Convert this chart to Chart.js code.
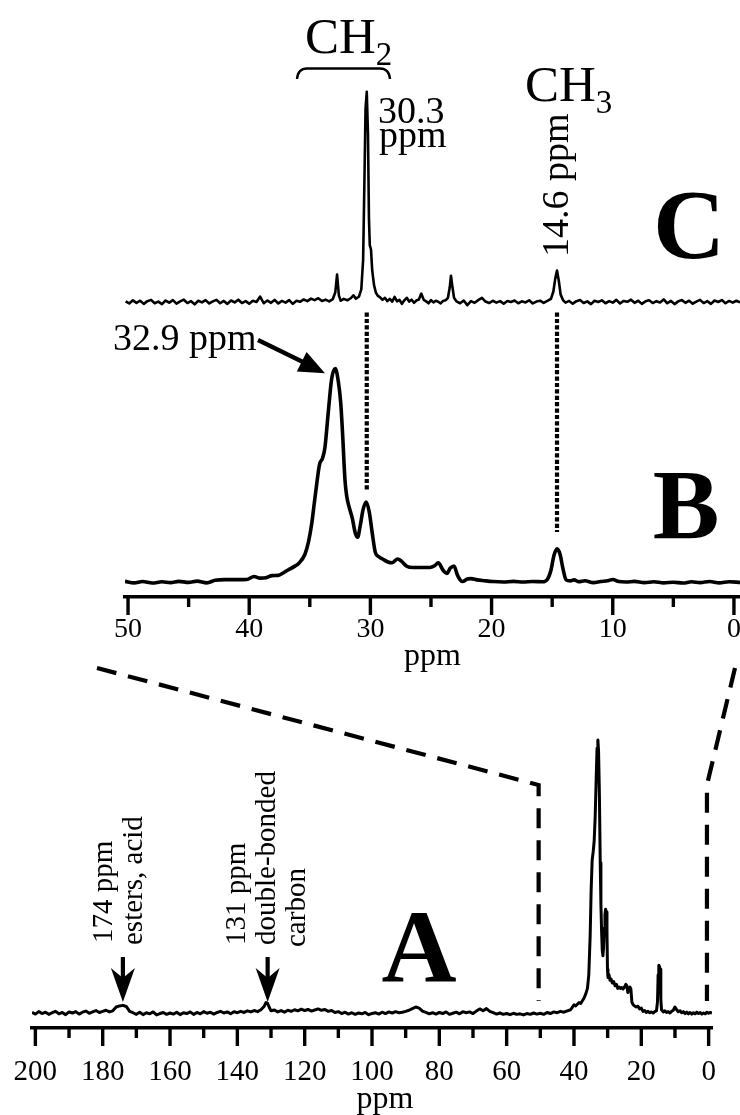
<!DOCTYPE html>
<html><head><meta charset="utf-8">
<script src="https://cdn.jsdelivr.net/npm/chart.js@4.4.1/dist/chart.umd.min.js"></script>
<style>
html,body{margin:0;padding:0;background:#fff;}
#wrap{position:relative;width:740px;height:1115px;overflow:hidden;background:#fff;}
canvas{position:absolute;left:0;}
#top{top:0;}
#bot{top:640px;}
</style></head><body>
<div id="wrap"><canvas id="top" width="740" height="680"></canvas><canvas id="bot" width="740" height="475"></canvas></div>
<script>
const SERIF = '"Liberation Serif", "Times New Roman", Times, serif';

// tick values
const bTickVals = [50, 40, 30, 20, 10, 0];
const bMinorVals = [45, 35, 25, 15, 5];
const aTickVals = [200, 180, 160, 140, 120, 100, 80, 60, 40, 20, 0];
const aMinorVals = [190, 170, 150, 130, 110, 90, 70, 50, 30, 10];

// spectrum C : [ppm, relative intensity]
const specC = [[50.2,0.3],[49.9,-0.7],[49.6,0.8],[49.3,-0.4],[49.0,0.6],[48.7,-0.9],[48.4,0.4],[48.1,1.0],[47.8,-0.6],[47.5,0.2],[47.2,-1.0],[46.9,0.7],[46.6,-0.3],[46.3,0.9],[46.0,-0.8],[45.7,0.3],[45.4,1.1],[45.1,-0.5],[44.8,0.4],[44.5,-1.1],[44.2,0.6],[43.9,-0.2],[43.6,0.9],[43.3,-0.7],[43.0,0.3],[42.7,1.0],[42.4,-0.6],[42.1,0.5],[41.8,-0.9],[41.5,0.7],[41.2,-0.2],[40.9,1.1],[40.6,-0.5],[40.3,0.4],[40.0,-0.8],[39.7,0.6],[39.4,0.0],[39.1,2.6],[38.8,-0.6],[38.5,0.7],[38.2,-0.4],[37.9,1.0],[37.6,-0.7],[37.3,0.5],[37.0,-0.3],[36.7,0.9],[36.4,-0.9],[36.1,0.6],[35.8,0.1],[35.5,1.2],[35.2,0.4],[34.9,1.6],[34.6,0.9],[34.3,1.8],[34.0,0.5],[33.7,1.1],[33.4,0.3],[33.1,1.4],[32.9,4.5],[32.75,13],[32.6,3],[32.45,0.6],[32.2,1.5],[31.9,0.8],[31.6,1.9],[31.4,3.2],[31.2,1.6],[30.95,2.5],[30.75,6],[30.6,20],[30.5,55],[30.4,92],[30.3,100],[30.2,80],[30.12,40],[30.05,27],[29.95,25],[29.85,15],[29.7,8],[29.55,4.5],[29.4,3],[29.2,2.2],[29.0,1.0],[28.8,2.0],[28.6,0.4],[28.4,1.5],[28.2,0.2],[28.0,2.4],[27.8,0.3],[27.6,1.0],[27.4,-0.9],[27.2,0.8],[27.0,2.0],[26.8,0.2],[26.6,1.1],[26.4,-0.4],[26.2,0.7],[26.0,1.2],[25.8,4.0],[25.6,1.0],[25.4,0.3],[25.2,-0.6],[25.0,0.9],[24.8,-0.2],[24.6,0.6],[24.4,0.1],[24.2,-0.7],[24.0,0.5],[23.8,0.8],[23.6,2.0],[23.45,7],[23.35,12.5],[23.25,8],[23.1,2],[22.9,0.3],[22.6,-0.6],[22.3,0.7],[22.0,-1.5],[21.7,0.4],[21.4,-0.4],[21.1,0.9],[20.8,2.0],[20.5,0.2],[20.2,-0.5],[19.9,0.6],[19.6,-0.3],[19.3,0.4],[19.0,-0.8],[18.7,0.5],[18.4,0.0],[18.1,0.7],[17.8,-0.6],[17.5,0.3],[17.2,-0.2],[16.9,0.8],[16.6,-0.7],[16.3,0.2],[16.0,0.6],[15.7,-0.4],[15.4,0.5],[15.1,1.5],[14.9,5],[14.75,11],[14.6,15],[14.45,10],[14.3,3.5],[14.1,0.8],[13.9,-0.3],[13.6,0.5],[13.3,-0.8],[13.0,0.4],[12.7,0.9],[12.4,-0.5],[12.1,0.3],[11.8,-1.0],[11.5,0.6],[11.2,0.0],[10.9,0.8],[10.6,-0.6],[10.3,0.4],[10.0,-0.3],[9.7,1.0],[9.4,-0.7],[9.1,0.5],[8.8,0.1],[8.5,1.1],[8.2,-0.4],[7.9,0.6],[7.6,-0.9],[7.3,0.3],[7.0,0.8],[6.7,-0.5],[6.4,0.4],[6.1,-0.2],[5.8,1.2],[5.5,-0.6],[5.2,0.5],[4.9,-1.0],[4.6,0.3],[4.3,0.9],[4.0,-0.4],[3.7,0.6],[3.4,-0.8],[3.1,0.2],[2.8,1.0],[2.5,-0.5],[2.2,0.4],[1.9,-0.9],[1.6,0.7],[1.3,0.0],[1.0,0.9],[0.7,-0.6],[0.4,0.5],[0.1,-0.3],[-0.2,0.6],[-0.5,-0.2]];

// spectrum B : [ppm, relative intensity]
const specB = [[50.25,0.3],[49.5,-0.4],[48.8,0.2],[48.0,-0.5],[47.2,0.1],[46.5,-0.3],[45.8,0.3],[45.0,-0.2],[44.3,0.4],[43.5,-0.4],[42.8,0.8],[42.0,1.1],[41.0,1.1],[40.2,1.2],[39.6,2.6],[39.1,1.8],[38.6,2.0],[38.1,3.0],[37.6,3.1],[37.2,4.2],[36.8,5.6],[36.3,7.2],[35.9,8.8],[35.4,13],[35.1,19],[34.85,27],[34.65,36],[34.45,45],[34.2,55],[33.95,58],[33.75,63],[33.5,78],[33.2,95],[32.9,100],[32.65,94],[32.45,84],[32.3,70],[32.1,48],[31.95,40],[31.75,35],[31.5,30],[31.25,23],[31.05,21],[30.85,26],[30.6,34],[30.35,37.5],[30.1,33],[29.85,23],[29.6,14],[29.3,11.8],[29.0,10.8],[28.6,9.5],[28.2,9.0],[27.75,10.8],[27.45,9.8],[27.0,7.4],[26.5,6.8],[25.8,6.8],[25.1,6.8],[24.7,7.6],[24.4,9.0],[24.0,5.5],[23.7,4.0],[23.4,6.5],[23.1,7.5],[22.8,3.0],[22.4,0.2],[22.0,1.4],[21.7,1.6],[21.2,1.0],[20.6,0.6],[19.9,0.2],[19.0,0.0],[18.2,0.3],[17.4,0.0],[16.6,0.2],[15.8,0.1],[15.4,1.2],[15.1,5.5],[14.85,12.5],[14.6,15.5],[14.35,13],[14.1,6],[13.85,1.0],[13.5,0.5],[13.2,1.0],[12.8,0.1],[12.3,0.6],[11.6,-0.3],[11.0,0.2],[10.4,0.6],[10.0,1.2],[9.5,0.2],[8.9,0.0],[8.2,0.3],[7.4,-0.3],[6.6,0.1],[5.8,-0.4],[5.0,-0.1],[4.2,-0.5],[3.5,0.1],[2.8,-0.3],[2.0,0.2],[1.2,-0.4],[0.4,0.1],[-0.5,-0.2]];

// spectrum A : [ppm, relative intensity]
const specA = [[201,0.2],[200,-0.4],[199,0.5],[198,-0.2],[197,0.3],[196,-0.5],[195,0.1],[194,0.6],[193,-0.3],[192,0.2],[191,-0.6],[190,0.4],[189,0.0],[188,0.5],[187,-0.4],[186,0.3],[185,0.7],[184,-0.1],[183,0.4],[182,0.9],[181,0.2],[180,0.6],[179,1.0],[178,0.4],[177,0.8],[176,2.2],[175,2.6],[174,2.8],[173,2.4],[172,0.6],[171,0.1],[170,-0.5],[169,0.3],[168,-0.6],[167,0.1],[166,-0.3],[165,0.4],[164,-0.7],[163,-0.2],[162,0.2],[161,-0.5],[160,0.0],[159,-0.4],[158,0.3],[157,-0.6],[156,0.1],[155,-0.2],[154,0.4],[153,-0.5],[152,0.2],[151,-0.3],[150,0.5],[149,-0.1],[148,0.3],[147,-0.4],[146,0.2],[145,0.6],[144,0.0],[143,0.4],[142,-0.3],[141,0.5],[140,0.1],[139,0.6],[138,0.2],[137,0.8],[136,0.4],[135,0.9],[134,0.5],[133,1.2],[132,2.5],[131.5,3.8],[131,3.5],[130.5,2.0],[130,0.8],[129,1.1],[128,0.4],[127,0.9],[126,0.3],[125,1.0],[124,0.6],[123,1.2],[122,0.8],[121,1.4],[120,0.9],[119,1.3],[118,0.7],[117,1.1],[116,1.5],[115,1.0],[114,1.3],[113,0.6],[112,0.9],[111,0.2],[110,0.5],[109,-0.2],[108,0.3],[107,-0.4],[106,0.1],[105,-0.5],[104,0.0],[103,-0.3],[102,0.2],[101,-0.6],[100,-0.2],[99,0.1],[98,-0.4],[97,0.3],[96,-0.2],[95,0.4],[94,0.0],[93,0.5],[92,0.1],[91,0.3],[90,0.6],[89,1.0],[88,1.6],[87,2.2],[86,1.8],[85,0.7],[84,0.2],[83,-0.3],[82,0.1],[81,-0.4],[80,0.2],[79,-0.2],[78,0.4],[77,-0.5],[76,-0.1],[75,0.3],[74,-0.3],[73,0.5],[72,0.1],[71,0.4],[70,-0.2],[69,0.7],[68,1.5],[67,0.8],[66,1.6],[65,0.6],[64,0.1],[63,-0.4],[62,0.0],[61,-0.5],[60,-0.2],[59,-0.6],[58,-0.1],[57,-0.5],[56,-0.3],[55,-0.7],[54,-0.2],[53,-0.5],[52,0.0],[51,-0.4],[50,-0.1],[49,-0.5],[48,0.2],[47,-0.2],[46,0.4],[45,0.1],[44,0.6],[43,0.3],[42,0.8],[41,1.2],[40,3.0],[39.5,2.6],[39,3.2],[38.5,3.8],[38,3.5],[37.5,4.5],[37,5.5],[36.5,7],[36,9],[35.6,14],[35.2,28],[34.9,45],[34.6,56],[34.3,59],[34.0,63],[33.7,72],[33.4,86],[33.15,97],[32.9,100],[32.7,96],[32.45,80],[32.2,55],[32.0,40],[31.8,30],[31.6,23],[31.4,21],[31.2,24],[31.0,31],[30.8,36],[30.6,38],[30.4,37],[30.2,30],[30.05,16],[29.9,13],[29.6,14],[29.3,12],[29.0,12.5],[28.6,11],[28.2,11.5],[27.8,10],[27.4,10.5],[27.0,9],[26.6,9.5],[26.2,9],[25.8,9.3],[25.4,8.8],[25.0,9.5],[24.6,10.5],[24.3,10.0],[24.0,7.5],[23.7,8.5],[23.4,9.5],[23.1,8.8],[22.8,4],[22.4,3],[22.0,2.6],[21.5,2.2],[21.0,2.5],[20.5,1.5],[20.0,1.8],[19.5,0.6],[19.0,0.9],[18.5,0.2],[18.0,0.6],[17.5,0.1],[17.0,0.4],[16.5,0.0],[16.0,0.5],[15.5,0.8],[15.2,4],[15.0,14],[14.8,17.5],[14.6,17],[14.4,16],[14.2,5],[14.0,1.2],[13.5,0.4],[13.0,0.8],[12.5,0.2],[12.0,0.5],[11.5,0.0],[11.0,0.6],[10.5,1.0],[10.0,2.2],[9.5,1.2],[9.0,0.5],[8.5,0.8],[8.0,0.1],[7.5,0.5],[7.0,-0.2],[6.5,0.3],[6.0,-0.3],[5.5,0.2],[5.0,-0.4],[4.5,0.1],[4.0,-0.3],[3.5,0.3],[3.0,-0.2],[2.5,0.2],[2.0,-0.4],[1.5,0.0],[1.0,-0.3],[0.5,0.3],[0.0,-0.1],[-0.5,0.2],[-1.0,0.0]];

// annotation anchors (ppm)
const guideLines = [{ppm: 30.3, topC: -5, endB: 42.6}, {ppm: 14.6, topC: -5, endB: 23.4}];
const arrowPeaksA = [174, 131];
const zoomEdgesA = [50.5, 0.5];

const toXY = arr => arr.map(p => ({x: p[0], y: p[1]}));

function drawTicks(chart, majors, minors) {
  const ctx = chart.ctx, s = chart.scales.x, y0 = chart.chartArea.bottom;
  ctx.save();
  ctx.strokeStyle = '#000'; ctx.lineWidth = 3.4; ctx.lineCap = 'butt';
  majors.forEach(v => { const px = s.getPixelForValue(v); ctx.beginPath(); ctx.moveTo(px, y0); ctx.lineTo(px, y0 + 18); ctx.stroke(); });
  minors.forEach(v => { const px = s.getPixelForValue(v); ctx.beginPath(); ctx.moveTo(px, y0); ctx.lineTo(px, y0 + 10); ctx.stroke(); });
  ctx.restore();
}
function vtext(ctx, str, x, y, font) {
  ctx.save(); ctx.translate(x, y); ctx.rotate(-Math.PI / 2);
  ctx.font = font; ctx.textAlign = 'left'; ctx.textBaseline = 'alphabetic';
  ctx.fillText(str, 0, 0); ctx.restore();
}
function chem(ctx, base, sub, x, y, size, subSize, drop) {
  ctx.font = size + 'px ' + SERIF; ctx.textAlign = 'left'; ctx.textBaseline = 'alphabetic';
  ctx.fillText(base, x, y);
  const w = ctx.measureText(base).width;
  ctx.font = subSize + 'px ' + SERIF;
  ctx.fillText(sub, x + w, y + drop);
}

const topPlugin = {
  id: 'topAnno',
  afterDraw(chart) {
    const ctx = chart.ctx, x = chart.scales.x, yB = chart.scales.yB, yC = chart.scales.yC;
    drawTicks(chart, bTickVals, bMinorVals);
    ctx.save();
    ctx.fillStyle = '#000'; ctx.strokeStyle = '#000';
    // dotted guide lines
    ctx.lineWidth = 4.2; ctx.setLineDash([4.2, 2.2]);
    guideLines.forEach(g => {
      const px = x.getPixelForValue(g.ppm);
      ctx.beginPath(); ctx.moveTo(px, yC.getPixelForValue(g.topC)); ctx.lineTo(px, yB.getPixelForValue(g.endB)); ctx.stroke();
    });
    ctx.setLineDash([]);
    // CH2 label with bracket
    chem(ctx, 'CH', '2', 305, 53, 51, 33, 12);
    ctx.lineWidth = 2.4;
    ctx.beginPath(); ctx.moveTo(297, 79); ctx.quadraticCurveTo(298, 68.5, 307, 68.5); ctx.lineTo(380, 68.5); ctx.quadraticCurveTo(389, 68.5, 390, 79); ctx.stroke();
    // CH3
    chem(ctx, 'CH', '3', 525, 101, 51, 33, 12);
    // 30.3 ppm
    ctx.font = '38px ' + SERIF; ctx.textAlign = 'left'; ctx.textBaseline = 'alphabetic';
    ctx.fillText('30.3', 378, 123);
    ctx.fillText('ppm', 379, 147);
    // 14.6 ppm rotated
    vtext(ctx, '14.6 ppm', 568, 257, '38px ' + SERIF);
    // 32.9 ppm with arrow
    ctx.font = '38px ' + SERIF; ctx.textAlign = 'left';
    ctx.fillText('32.9 ppm', 113, 350);
    ctx.lineWidth = 4.2;
    ctx.beginPath(); ctx.moveTo(258, 340); ctx.lineTo(305, 363); ctx.stroke();
    ctx.beginPath(); ctx.moveTo(325, 373.3); ctx.lineTo(296.8, 371.5); ctx.lineTo(306.6, 351.9); ctx.closePath(); ctx.fill();
    // panel letters
    ctx.font = 'bold 100px ' + SERIF; ctx.textAlign = 'center';
    ctx.fillText('C', 689, 258);
    ctx.fillText('B', 686, 538);
    ctx.restore();
  }
};

const OFF = 640;
const botPlugin = {
  id: 'botAnno',
  afterDraw(chart) {
    const ctx = chart.ctx, x = chart.scales.x;
    drawTicks(chart, aTickVals, aMinorVals);
    ctx.save();
    ctx.fillStyle = '#000'; ctx.strokeStyle = '#000';
    // dashed zoom lines
    ctx.lineWidth = 4.2; ctx.setLineDash([20, 12]); ctx.lineCap = 'butt';
    const xl = x.getPixelForValue(zoomEdgesA[0]), xr = x.getPixelForValue(zoomEdgesA[1]);
    ctx.beginPath(); ctx.moveTo(97, 668 - OFF); ctx.lineTo(xl, 785 - OFF); ctx.lineTo(xl, 1001 - OFF); ctx.stroke();
    ctx.beginPath(); ctx.moveTo(735, 668 - OFF); ctx.lineTo(xr, 785 - OFF); ctx.lineTo(xr, 1001 - OFF); ctx.stroke();
    ctx.setLineDash([]);
    // axis title
    ctx.font = '32px ' + SERIF; ctx.textAlign = 'center'; ctx.textBaseline = 'middle';
    ctx.fillText('ppm', 385, 1100 - OFF);
    // A letter
    ctx.font = 'bold 104px ' + SERIF; ctx.textAlign = 'center'; ctx.textBaseline = 'alphabetic';
    ctx.fillText('A', 419, 982 - OFF);
    // rotated annotations
    const f = '29px ' + SERIF;
    vtext(ctx, '174 ppm', 112, 943 - OFF, f);
    vtext(ctx, 'esters, acid', 142, 945 - OFF, f);
    vtext(ctx, '131 ppm', 245, 945 - OFF, f);
    vtext(ctx, 'double-bonded', 275, 945 - OFF, f);
    vtext(ctx, 'carbon', 305, 947 - OFF, f);
    // arrows
    arrowPeaksA.forEach(p => {
      const px = x.getPixelForValue(p);
      ctx.lineWidth = 4.2;
      ctx.beginPath(); ctx.moveTo(px, 957 - OFF); ctx.lineTo(px, 985 - OFF); ctx.stroke();
      ctx.beginPath(); ctx.moveTo(px, 1002 - OFF); ctx.lineTo(px - 12, 968 - OFF); ctx.lineTo(px, 978 - OFF); ctx.lineTo(px + 12, 968 - OFF); ctx.closePath(); ctx.fill();
    });
    ctx.restore();
  }
};

Chart.defaults.font.family = SERIF;
Chart.defaults.color = '#000';

new Chart(document.getElementById('top'), {
  type: 'line',
  data: { datasets: [
    { label: 'C', data: toXY(specC), yAxisID: 'yC', borderColor: '#000', borderWidth: 2.6, pointRadius: 0, tension: 0, borderJoinStyle: 'round' },
    { label: 'B', data: toXY(specB), yAxisID: 'yB', borderColor: '#000', borderWidth: 3.6, pointRadius: 0, cubicInterpolationMode: 'monotone', borderJoinStyle: 'round' }
  ]},
  options: {
    responsive: false, animation: false, events: [],
    layout: { padding: { left: 125, right: 0, top: 0, bottom: 0 } },
    plugins: { legend: { display: false }, tooltip: { enabled: false } },
    scales: {
      x: {
        type: 'linear', reverse: true, min: -0.5, max: 50.25, position: 'bottom',
        afterBuildTicks: s => { s.ticks = bTickVals.map(v => ({ value: v })); },
        afterFit: s => { s.height = 83; s.paddingLeft = 0; s.paddingRight = 0; },
        grid: { display: true, drawOnChartArea: false, drawTicks: true, tickLength: 18, color: 'rgba(0,0,0,0)', tickColor: 'rgba(0,0,0,0)' },
        border: { display: true, color: '#000', width: 3.4 },
        ticks: { autoSkip: false, maxRotation: 0, padding: -2, color: '#000', font: { size: 28, family: SERIF } },
        title: { display: true, text: 'ppm', color: '#000', font: { size: 32, family: SERIF, lineHeight: 1 }, padding: { top: 0, bottom: 7 } }
      },
      yB: { display: false, min: -7.03, max: 272.6 },
      yC: { display: false, min: -140.37, max: 143.69 }
    }
  },
  plugins: [topPlugin]
});

new Chart(document.getElementById('bot'), {
  type: 'line',
  data: { datasets: [
    { label: 'A', data: toXY(specA), yAxisID: 'yA', borderColor: '#000', borderWidth: 3, pointRadius: 0, tension: 0, borderJoinStyle: 'round' }
  ]},
  options: {
    responsive: false, animation: false, events: [],
    layout: { padding: { left: 32, right: 28, top: 0, bottom: 0 } },
    plugins: { legend: { display: false }, tooltip: { enabled: false } },
    scales: {
      x: {
        type: 'linear', reverse: true, min: -1, max: 201, position: 'bottom',
        afterBuildTicks: s => { s.ticks = aTickVals.map(v => ({ value: v })); },
        afterFit: s => { s.height = 87; s.paddingLeft = 0; s.paddingRight = 0; },
        grid: { display: true, drawOnChartArea: false, drawTicks: true, tickLength: 18, color: 'rgba(0,0,0,0)', tickColor: 'rgba(0,0,0,0)' },
        border: { display: true, color: '#000', width: 3.4 },
        ticks: { autoSkip: false, maxRotation: 0, padding: 8.6, color: '#000', font: { size: 29, family: SERIF } },
        title: { display: false, text: 'ppm' }
      },
      yA: { display: false, min: -5.494, max: 136.63 }
    }
  },
  plugins: [botPlugin]
});
</script></body></html>
